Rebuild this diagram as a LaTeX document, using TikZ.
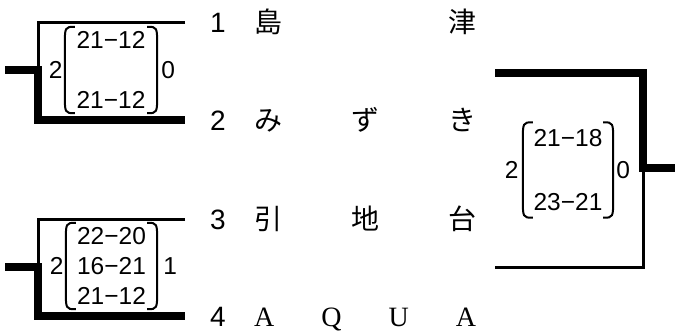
\documentclass[tikz,border=0pt]{standalone}
\usepackage{fontspec}
\usepackage{tikz}
\usetikzlibrary{positioning}
\newfontfamily\jpfont{Noto Sans CJK JP}
\newfontfamily\numfont{Liberation Sans}
\newfontfamily\romanfont{Liberation Serif}
\tikzset{
  thinline/.style={line width=3pt},
  winline/.style={line width=7.5pt},
  seed/.style={font=\numfont\fontsize{28}{30}\selectfont, inner xsep=25pt, inner ysep=0pt, text height=20pt, text depth=0pt},
  team/.style={font=\jpfont\fontsize{28}{30}\selectfont, inner sep=0pt, anchor=west, text height=21pt, text depth=0pt},
  score/.style={font=\numfont\fontsize{24.5}{30}\selectfont, align=center, inner sep=0pt},
  games/.style={font=\numfont\fontsize{24.5}{30}\selectfont, inner sep=0pt},
  paren/.style={line width=2pt},
}
\newcommand\parens[1]{%
  \draw[paren] ([xshift=10pt]#1.north west) .. controls (#1.north west) .. ([yshift=-20pt]#1.north west)
    -- ([yshift=20pt]#1.south west) .. controls (#1.south west) .. ([xshift=10pt]#1.south west);
  \draw[paren] ([xshift=-10pt]#1.north east) .. controls (#1.north east) .. ([yshift=-20pt]#1.north east)
    -- ([yshift=20pt]#1.south east) .. controls (#1.south east) .. ([xshift=-10pt]#1.south east);}
\begin{document}
\begin{tikzpicture}[x=1pt, y=-1pt]
  \useasboundingbox (0,0) rectangle (675,332);
  \node[seed] (n1) at (218,22) {1};
  \node[seed] (n2) at (218,120) {2};
  \node[seed] (n3) at (218,219) {3};
  \node[seed] (n4) at (218,316) {4};
  \node[team] (t1) at ([xshift=3pt]n1.east) {\makebox[222pt]{島\hfill 津}};
  \node[team] (t2) at ([xshift=3pt]n2.east) {\makebox[222pt]{み\hfill ず\hfill き}};
  \node[team] (t3) at ([xshift=3pt]n3.east) {\makebox[222pt]{引\hfill 地\hfill 台}};
  \node[team] (t4) at ([xshift=3pt]n4.east) {\makebox[222pt]{\romanfont A\hfill Q\hfill U\hfill A}};

  \coordinate (m1) at (38,70);
  \coordinate (o1) at (5,70);
  \draw[thinline] (n1.west) -| (m1);
  \draw[winline] (o1) -- (m1) |- (n2.west);
  \coordinate (m2) at (38,267);
  \coordinate (o2) at (5,267);
  \draw[thinline] (n3.west) -| (m2);
  \draw[winline] (o2) -- (m2) |- (n4.west);
  \coordinate (f1) at (495,73);
  \coordinate (f2) at (495,267);
  \coordinate (mf) at (643,168);
  \coordinate (of) at (675,168);
  \draw[thinline] (f2) -| (mf);
  \draw[winline] (f1) -| (mf) -- (of);

  \node[score, minimum width=92pt, minimum height=86pt] (s1) at (111,70) {21−12\\[30pt]21−12};
  \node[games, left=2pt of s1] (g1a) {2};
  \node[games, right=4pt of s1] (g1b) {0};
  \parens{s1}
  \node[score, minimum width=91pt, minimum height=86pt] (s2) at (111.5,266) {22−20\\16−21\\21−12};
  \node[games, left=2pt of s2] (g2a) {2};
  \node[games, right=6pt of s2] (g2b) {1};
  \parens{s2}
  \node[score, minimum width=90pt, minimum height=95pt] (s3) at (568,170) {21−18\\[34pt]23−21};
  \node[games, left=4pt of s3] (g3a) {2};
  \node[games, right=3pt of s3] (g3b) {0};
  \parens{s3}
\end{tikzpicture}
\end{document}
